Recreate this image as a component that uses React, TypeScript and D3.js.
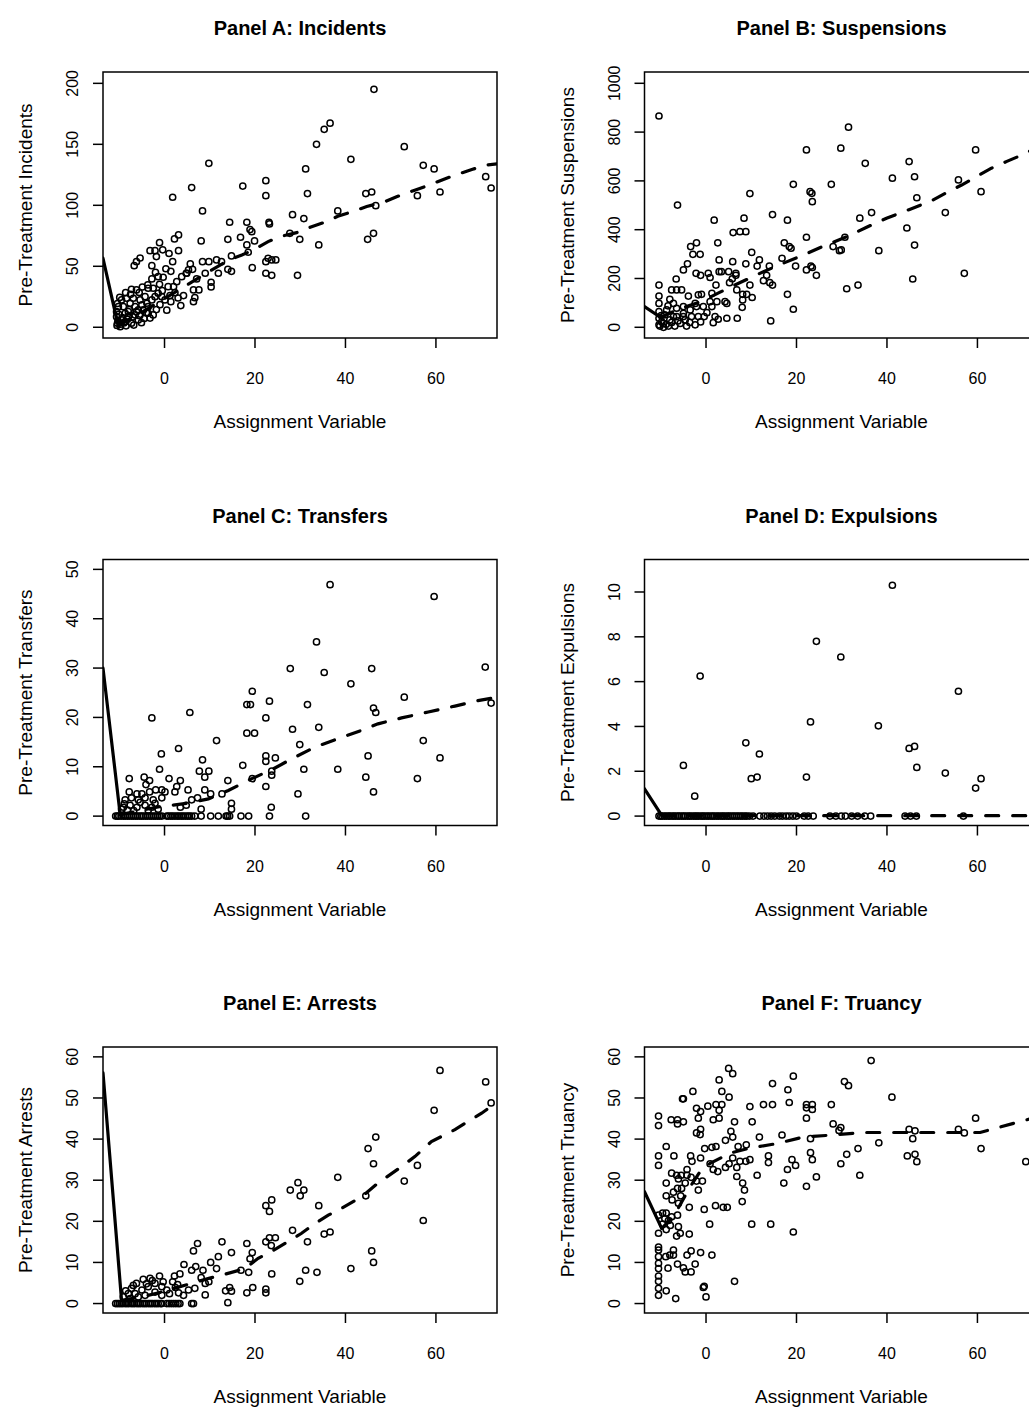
import React, { useEffect, useRef } from "react";
import * as d3 from "d3";

// shared x axis: assignment variable
const xDomain = [-13.6, 73.5];
const xTicks = [0, 20, 40, 60];

// ---- Panel A: incidents ----
const incidentsPts = [
  [46.3,195.1],[36.6,167.3],[35.3,162.3],[33.6,150],[53.0,148.1],[41.2,137.7],[9.8,134.4],[57.2,132.8],[59.6,129.8],[31.2,129.8],
  [6.0,114.5],[17.3,115.8],[22.4,120.2],[22.4,107.9],[1.8,106.6],[31.6,109.6],[44.5,109.6],[45.8,110.9],[55.9,107.9],[60.9,110.9],
  [71.0,123.5],[72.2,114.2],[8.4,95.4],[38.3,95.4],[28.3,92.3],[30.8,89.1],[46.7,99.7],[14.4,86.1],[18.2,86.1],[23.1,86.1],
  [23.2,84.7],[18.9,80.1],[19.3,78.4],[3.1,75.7],[2.2,72.4],[16.8,73.8],[19.9,70.8],[14.0,72.1],[8.1,70.8],[29.9,72.1],
  [27.7,77.0],[34.1,67.5],[44.9,72.1],[46.2,77.0],[-1.1,69.4],[-3.2,62.8],[-2.1,62.8],[3.1,62.8],[18.2,67.5],[18.5,61.5],
  [-5.4,56.8],[-6.2,53.8],[-6.7,50.5],[-2.8,50.5],[1.8,53.8],[5.7,51.9],[8.4,53.8],[9.8,53.8],[11.5,55.2],[12.6,53.8],
  [14.8,58.5],[22.9,56.6],[23.7,55.2],[24.6,55.2],[22.4,53.8],[19.4,48.9],[14.0,47.5],[14.8,45.9],[11.9,44.3],[22.4,44.3],
  [23.7,42.6],[29.4,42.6],[1.4,45.9],[6.2,47.5],[4.8,44.3],[9.0,44.3],[7.1,39.6],[10.3,36.9],[10.3,33.1],[6.4,30.6],
  [7.6,30.6],[6.7,24.3],[6.4,21.0],[3.6,17.8],[4.2,26.0],[2.3,28.4],[0.1,22.4],[1.4,21.0],[-1.4,41.5],[-2.8,39.6],
  [-3.7,34.7],[-3.6,32.0],[-2.5,32.0],[-1.1,35.2],[-0.3,41.0],[0.8,33.3],[2.0,33.3],[2.7,37.4],[3.8,41.5],[4.9,44.3],
  [5.3,47.0],[-1.4,27.9],[-0.6,25.1],[-2.1,25.1],[-2.8,22.4],[-3.9,19.7],[-5.0,18.3],[-5.8,14.2],[-6.5,10.1],[-8.0,8.7],
  [-8.7,11.5],[-9.1,16.9],[-9.5,22.4],[-8.6,28.4],[-7.3,31.1],[-6.2,30.6],[-4.3,25.1],[-3.6,16.9],[-2.5,10.1],[-4.7,14.2],
  [-7.6,19.7],[-10.2,16.9],[-10.6,8.7],[-10.4,3.3],[-9.8,0.5],[-8.7,4.6],[-7.3,3.3],[-5.8,6.0],[-8.4,23.8],[-6.9,23.8],
  [-5.4,22.4],[-3.6,11.5],[-6.5,16.9],[-8.0,12.8],[-9.5,6.0],[-10.6,12.8],[-10.5,1.5],[-10.3,5.5],[-10.1,10.5],[-9.7,2.5],
  [-9.3,8],[-9,3.5],[-8.5,1.2],[-8.2,6.5],[-7.8,14.5],[-7,8.5],[-6.8,1.8],[-6.2,12.8],[-5.5,9.5],[-5.1,3.8],
  [-4.5,7.2],[-4,12],[-3.2,7.5],[-1.8,14.5],[-1,18.5],[0.5,14],[1.2,26],[-0.5,30],[3,24],[-10.4,19.5],
  [-9.9,24.5],[-7.5,27],[-5.6,28.5],[-4.9,33],[-2,45],[0.3,48],[-1.8,58],[1,60.5],[-0.4,63.5],
];
const incidentsLeft = [[-13.6,56.6],[-10.2,0.5]];
const incidentsFit = [
  [-10.2,2],[-6,10],[-2,19],[2,28],[6,37],[10,46],[14.1,55],[17.1,59.3],[19.3,62.8],[22.9,70.2],[25.5,74.3],[29.2,77.6],
  [32.2,82],[35.8,86.6],[38.3,91],[41.7,95],[44.7,99],[48.4,102.5],[51.3,107],[55,112],[58.1,116],[61.5,121],[64.4,125],
  [68.1,129.5],[71,133],[73.5,134],
];
const incidentsTicks = [0, 50, 100, 150, 200];

// ---- Panel B: suspensions ----
const suspensionsPts = [
  [-10.4,866],[-6.3,501],[31.5,820],[22.2,727],[29.8,734],[59.6,727],[35.2,672],[44.9,679],[41.2,611],[46.1,617],
  [19.3,586],[27.7,586],[55.8,604],[60.8,556],[9.7,548],[23.0,556],[23.4,549],[23.5,515],[46.6,531],[1.8,439],
  [8.4,447],[14.7,462],[18.0,439],[36.6,470],[52.9,470],[34.0,447],[6.0,388],[7.5,392],[8.8,392],[44.4,407],
  [-3.4,331],[-2.1,346],[-2.9,299],[-1.3,299],[2.6,346],[22.2,369],[17.3,346],[18.8,324],[18.4,331],[28.1,331],
  [29.5,314],[29.9,317],[30.7,369],[38.2,314],[46.1,337],[10.1,307],[-4.1,260],[-5.0,235],[2.9,276],[5.9,269],
  [8.8,260],[11.8,276],[11.3,251],[14.0,251],[16.8,283],[19.8,251],[22.2,235],[23.2,251],[23.5,245],[24.4,213],
  [-2.2,221],[-1.2,213],[0.5,221],[0.9,204],[2.9,228],[3.4,228],[5.0,228],[6.6,221],[6.6,213],[5.2,183],
  [5.8,199],[2.2,173],[9.7,173],[12.7,191],[13.4,213],[14.1,183],[14.7,173],[6.8,153],[8.1,135],[9.0,135],
  [8.1,112],[8.0,82],[10.2,122],[18.0,135],[19.3,74],[14.3,26],[31.1,158],[33.6,173],[45.7,198],[57.1,221],
  [-6.6,198],[-10.4,173],[-10.4,128],[-10.4,98],[-10.4,64],[-10.4,37],[-10.4,10],[-7.6,153],[-6.5,153],[-5.4,153],
  [-8.0,115],[-7.2,98],[-3.9,128],[-1.7,133],[-1.0,135],[1.3,139],[0.9,105],[2.4,105],[4.2,105],[4.6,98],
  [-2.4,98],[-2.1,85],[-0.6,85],[1.3,85],[-3.5,71],[-5.0,85],[-6.5,78],[-8.7,71],[-9.1,51],[-7.2,44],
  [-5.0,44],[-3.2,44],[-1.7,44],[-0.4,44],[2.0,44],[2.7,33],[4.6,37],[6.9,37],[1.6,19],[-2.4,10],
  [-4.3,5],[-5.7,16],[-6.9,5],[-8.3,5],[-9.4,16],[-8.0,30],[-6.5,44],[-5.0,57],[-9.4,0],[-10.2,5],
  [-9.8,22],[-8.8,12],[-7.6,20],[-6.2,26],[-4.6,30],[-3.6,20],[-1.2,22],[0.2,60],[-9.9,48],[-8.4,88],
];
const suspensionsLeft = [[-13.6,85],[-10,40]];
const suspensionsFit = [
  [-10,40],[-6.5,71],[-2,100],[0,115],[3,143],[6,170],[9.5,200],[12.7,228],[17,262],[21.5,296],[26,333],[31.1,371],
  [35.5,410],[39.9,447],[45,483],[49.9,519],[53,550],[56.5,583],[60,620],[63.1,652],[66.5,680],[69.8,706],[73.5,740],
];
const suspensionsTicks = [0, 200, 400, 600, 800, 1000];

// ---- Panel C: transfers ----
const transfersPts = [
  [36.6,46.9],[59.6,44.5],[33.6,35.3],[27.8,29.9],[45.8,29.9],[70.9,30.2],[35.3,29.1],[41.2,26.8],[53.0,24.1],[19.4,25.3],
  [18.2,22.6],[19.0,22.6],[23.2,23.3],[31.6,22.6],[72.2,22.9],[46.2,21.9],[46.7,21.0],[-2.8,19.9],[5.6,21.0],[22.4,19.9],
  [28.3,17.6],[34.1,18.0],[18.2,16.8],[19.9,16.8],[11.5,15.3],[57.2,15.3],[29.9,14.5],[3.1,13.7],[-0.7,12.6],[8.4,11.4],
  [22.4,12.2],[22.4,11.1],[24.5,11.8],[45.0,12.2],[60.9,11.8],[17.3,10.3],[-1.1,9.5],[7.7,9.1],[8.9,7.9],[9.8,9.1],
  [23.7,9.1],[23.7,8.3],[30.8,9.5],[38.3,9.5],[19.4,7.6],[14.0,7.2],[44.5,7.9],[55.9,7.6],[22.4,6.0],[29.5,4.5],
  [46.2,4.9],[-7.8,7.6],[-4.5,7.9],[-3.3,7.2],[1.0,7.6],[3.5,7.2],[2.7,6.0],[5.2,5.3],[8.9,5.3],[10.2,4.5],
  [12.7,4.5],[14.8,2.6],[14.8,1.4],[23.6,1.8],[7.3,3.7],[6.0,3.3],[4.8,2.2],[3.5,1.8],[8.1,1.4],[-7.8,4.9],
  [-6.1,4.5],[-5.0,4.5],[-4.1,6.4],[-3.3,4.9],[-1.95,5.3],[-0.6,5.3],[0.1,4.9],[2.3,4.9],[-8.7,3.3],[-7.3,3.7],
  [-5.8,3.3],[-4.3,3.7],[-2.5,3.3],[-0.6,3.7],[-9.1,1.8],[-7.6,2.2],[-6.1,1.8],[-4.3,2.2],[-2.8,1.8],[-1.4,1.4],
  [-9.5,1.4],[-8.2,1.2],[-6.8,1.1],[-3.6,1.2],[-2.1,2.6],[-5.4,2.8],[-8.9,2.5],
];
const transfersZeroX = [
  -10.8,-10.4,-10.1,-9.6,-9.1,-8.7,-8.2,-7.8,-7.3,-6.9,-6.4,-6.0,-5.5,-5.1,-4.7,-4.2,-3.8,-3.3,-2.9,-2.4,-2.0,-1.5,-1.1,-0.6,
  0.5,0.9,1.4,1.8,2.3,2.8,3.2,3.7,4.1,4.6,5.1,5.5,6.0,6.7,8.1,10.2,11.9,13.6,13.95,14.4,16.9,18.6,23.2,31.2,
];
const transfersLeft = [[-13.6,30],[-9.8,0.3]];
const transfersFit = [
  [-9.8,0.3],[-5,1.2],[0,2.1],[1.6,2.2],[5,2.6],[9.7,3.5],[14.1,5.2],[19.3,7.6],[23.7,9.4],[28.1,11.6],[33.3,14],
  [38.4,15.7],[43.6,17.4],[47.2,18.7],[52.4,19.9],[58.3,21.1],[64.2,22.3],[69.3,23.4],[73.5,24.1],
];
const transfersTicks = [0, 10, 20, 30, 40, 50];

// ---- Panel D: expulsions ----
const expulsionsPts = [
  [41.2,10.3],[24.4,7.8],[29.8,7.1],[-1.3,6.25],[55.8,5.57],[23.1,4.2],[38.1,4.03],[8.8,3.27],[11.8,2.77],[44.9,3.02],
  [46.1,3.11],[-5.0,2.26],[46.6,2.17],[52.9,1.92],[10.0,1.67],[11.3,1.74],[22.2,1.74],[60.8,1.67],[59.6,1.25],[-2.5,0.89],
];
const expulsionsZeroX = [
  -10.4,-10.0,-9.7,-9.2,-8.8,-8.3,-8.0,-7.5,-7.1,-6.7,-6.2,-5.9,-5.4,-5.0,-4.6,-4.1,-3.7,-3.3,-2.8,-2.4,-2.0,-1.6,-1.1,-0.7,
  -0.3,0.2,0.6,1.1,1.5,1.9,2.4,2.8,3.3,3.7,4.1,4.6,5.0,5.4,5.9,6.3,6.8,7.2,7.7,8.1,8.6,9.0,9.6,10.4,
  11.9,12.8,13.6,14.4,15.2,16.2,16.9,17.7,18.4,19.2,20.0,21.7,22.6,23.7,27.4,28.7,29.9,30.8,32.2,33.5,35.1,36.4,
  44.0,45.2,46.5,56.9,
];
const expulsionsLeft = [[-13.6,1.22],[-9.8,0.03]];
const expulsionsFit = [[-9.8,0.03],[20,0.02],[73.5,0.02]];
const expulsionsTicks = [0, 2, 4, 6, 8, 10];

// ---- Panel E: arrests ----
const arrestsPts = [
  [60.9,56.7],[71.0,53.9],[72.2,48.8],[59.6,47.0],[46.7,40.5],[45.0,37.7],[46.2,34.0],[55.9,33.6],[38.3,30.7],[53.0,29.8],
  [29.5,29.4],[27.8,27.6],[30.8,27.6],[30.0,26.2],[44.5,26.2],[23.7,25.2],[22.4,23.8],[23.2,22.4],[34.1,23.8],[57.2,20.2],
  [28.3,17.8],[35.3,16.9],[36.6,17.4],[31.6,15.0],[22.4,15.0],[23.2,16.0],[24.5,16.0],[23.6,14.1],[12.7,15.0],[18.2,14.6],
  [19.4,12.4],[7.3,14.6],[6.4,12.8],[14.8,12.4],[11.9,11.4],[18.9,10.9],[45.8,12.8],[46.2,10.0],[41.2,8.5],[10.2,10.0],
  [11.5,8.5],[4.3,9.5],[6.0,8.1],[6.9,9.0],[8.5,8.1],[8.1,6.3],[9.0,4.9],[9.0,2.1],[9.8,5.3],[16.9,8.1],
  [18.6,7.6],[31.2,8.1],[33.7,7.6],[23.7,7.2],[29.9,5.4],[13.5,3.1],[14.4,3.9],[14.8,3.0],[19.5,3.9],[18.2,2.6],
  [22.4,3.5],[22.4,2.6],[14.0,0.2],[-1.1,6.7],[2.2,6.7],[3.4,7.2],[1.8,5.3],[2.4,3.9],[3.1,2.6],[4.2,2.0],
  [5.3,3.3],[6.7,3.7],[-0.3,5.3],[-0.6,4.1],[0.5,3.3],[-2.1,4.9],[-3.2,6.1],[-4.7,5.9],[-6.2,4.9],[-7.3,3.7],
  [-8.0,2.4],[-9.1,1.6],[-6.5,2.4],[-5.0,3.3],[-3.6,4.1],[-2.1,2.8],[-0.6,2.0],[-4.3,2.0],[-5.8,1.6],[-7.6,1.2],
  [-8.6,3.1],[-6.9,4.4],[-4.0,4.8],[-2.7,5.6],[1.1,2.4],[2.9,4.6],
];
const arrestsZeroX = [
  -10.8,-10.4,-10.0,-9.6,-9.2,-8.7,-8.3,-7.9,-7.4,-7.0,-6.6,-6.1,-5.7,-5.3,-4.8,-4.4,-4.0,-3.5,-3.1,-2.7,-2.2,-1.8,-1.4,-0.9,-0.6,
  0.5,1.0,1.5,2.0,2.5,3.0,3.4,6.0,6.4,
];
const arrestsLeft = [[-13.6,56.1],[-9.5,0.8]];
const arrestsFit = [
  [-9.5,0.8],[-5,1.6],[0,3],[5,4.6],[10,6.2],[12.6,6.9],[17.8,8.5],[20.7,11],[24.8,13.4],[30.3,17.1],[33.3,19.5],
  [36.2,21.5],[39.2,23.2],[43.6,26],[47.2,29.3],[52.4,33.3],[55.4,35.8],[59,39.4],[64.2,42.3],[67.1,44.3],[70.1,46.3],[73.5,49],
];
const arrestsTicks = [0, 10, 20, 30, 40, 50, 60];

// ---- Panel F: truancy ----
const truancyPts = [
  [36.5,59.1],[5.0,57.2],[5.9,55.9],[19.3,55.3],[2.9,54.4],[14.7,53.5],[30.6,54.0],[31.5,53.0],[18.1,52.0],[-2.9,51.6],
  [3.5,51.6],[41.1,50.2],[-5.2,49.8],[-5.0,49.8],[5.1,50.2],[18.4,48.9],[0.4,48.0],[2.2,48.4],[3.5,48.4],[12.7,48.4],
  [14.7,48.4],[22.2,48.4],[23.5,48.4],[22.2,47.6],[23.5,47.2],[27.7,48.4],[9.7,47.9],[-2.1,47.5],[-1.2,46.7],[2.9,47.0],
  [-10.5,45.6],[-10.5,43.3],[-7.7,44.7],[-6.3,44.7],[-6.3,43.7],[-5.0,44.2],[-1.7,45.1],[1.6,44.7],[2.9,45.1],[6.3,44.2],
  [10.2,44.2],[22.2,45.1],[59.6,45.1],[28.1,43.7],[29.8,42.8],[29.4,42.1],[-2.1,41.5],[-1.3,41.1],[-1.2,42.4],[5.5,41.9],
  [5.9,40.5],[4.3,39.7],[11.8,40.5],[16.8,41.0],[23.1,40.1],[44.9,42.4],[46.2,42.0],[45.7,40.1],[55.8,42.4],[57.1,41.5],
  [-8.8,38.2],[-0.3,37.7],[1.3,38.0],[2.2,38.2],[7.1,38.2],[8.9,38.6],[38.2,39.1],[33.6,37.7],[60.8,37.7],[-10.5,35.9],
  [-10.5,33.6],[-7.1,35.9],[-3.4,35.9],[-3.1,34.6],[-1.2,35.4],[0.9,34.0],[5.9,35.4],[7.5,34.6],[8.8,34.6],[9.7,35.0],
  [13.8,35.9],[13.8,34.3],[19.0,35.0],[19.8,33.6],[18.0,32.6],[23.1,36.7],[23.5,35.0],[31.1,36.3],[29.8,34.0],[44.5,35.9],
  [46.2,36.3],[46.6,34.5],[70.7,34.5],[4.3,33.1],[5.1,34.0],[1.6,32.6],[2.6,32.1],[6.8,33.1],[6.8,30.9],[11.3,31.2],
  [17.2,29.3],[22.2,28.5],[24.4,30.8],[34.0,31.2],[8.1,29.3],[8.5,27.6],[8.0,24.8],[-7.6,31.7],[-6.5,31.2],[-6.1,30.3],
  [-5.5,31.2],[-4.2,32.6],[-4.2,31.2],[-3.3,30.7],[-4.6,29.3],[-8.8,29.3],[-2.1,29.8],[-0.8,29.8],[-1.7,27.6],[-5.4,28.0],
  [-6.3,28.0],[-7.2,27.1],[-8.8,26.2],[-7.5,25.2],[-5.6,26.2],[-6.1,24.4],[-3.7,23.4],[-0.4,22.9],[2.1,23.8],[3.8,23.4],
  [4.7,23.4],[-10.5,21.5],[-9.6,22.0],[-8.8,22.0],[-7.6,21.1],[-6.3,21.5],[-9.6,19.3],[-8.8,18.0],[-10.5,17.1],[-6.1,18.7],
  [-5.7,17.1],[-6.5,16.4],[-3.7,16.9],[0.8,19.3],[10.1,19.3],[14.3,19.3],[19.3,17.4],[-10.5,13.7],[-10.5,13.0],[-10.5,11.4],
  [-10.5,9.8],[-10.5,8.5],[-10.5,6.7],[-10.5,5.4],[-10.5,3.7],[-10.5,2.0],[-8.8,3.1],[-6.7,1.2],[-8.4,8.6],[-8.9,11.4],
  [-8.0,11.8],[-7.2,11.8],[-7.2,13.0],[-6.3,9.6],[-5.0,8.7],[-4.6,7.7],[-3.3,7.7],[-4.2,11.8],[-3.3,12.8],[-2.4,9.6],
  [-1.2,12.4],[1.3,11.8],[-0.4,4.2],[-0.6,3.9],[0.0,1.6],[6.3,5.4],[-8.3,20.2],[-7.9,19.0],[-9.1,20.6],
];
const truancyLeft = [[-13.6,27.2],[-9.8,18.3]];
const truancyFit = [
  [-9.8,18.3],[-7.2,21.1],[-3.5,28.4],[-1.3,32.1],[0.9,34.1],[5.3,36.6],[9.7,37.8],[15.6,38.9],[21.5,40.5],[28.1,41],
  [34.8,41.6],[41.4,41.6],[49.5,41.6],[56.9,41.6],[60.6,41.6],[64.2,42.7],[70.9,44.7],[73.5,45.5],
];
const truancyTicks = [0, 10, 20, 30, 40, 50, 60];

const panels = [
  { title: "Panel A: Incidents", ylab: "Pre-Treatment Incidents", pts: incidentsPts, left: incidentsLeft, fit: incidentsFit, ticks: incidentsTicks, yDomain: [-8.8, 209.3] },
  { title: "Panel B: Suspensions", ylab: "Pre-Treatment Suspensions", pts: suspensionsPts, left: suspensionsLeft, fit: suspensionsFit, ticks: suspensionsTicks, yDomain: [-43.9, 1046.3] },
  { title: "Panel C: Transfers", ylab: "Pre-Treatment Transfers", pts: transfersPts.concat(transfersZeroX.map(x => [x, 0])), left: transfersLeft, fit: transfersFit, ticks: transfersTicks, yDomain: [-1.9, 52.0] },
  { title: "Panel D: Expulsions", ylab: "Pre-Treatment Expulsions", pts: expulsionsPts.concat(expulsionsZeroX.map(x => [x, 0])), left: expulsionsLeft, fit: expulsionsFit, ticks: expulsionsTicks, yDomain: [-0.42, 11.45] },
  { title: "Panel E: Arrests", ylab: "Pre-Treatment Arrests", pts: arrestsPts.concat(arrestsZeroX.map(x => [x, 0])), left: arrestsLeft, fit: arrestsFit, ticks: arrestsTicks, yDomain: [-2.3, 62.4] },
  { title: "Panel F: Truancy", ylab: "Pre-Treatment Truancy", pts: truancyPts, left: truancyLeft, fit: truancyFit, ticks: truancyTicks, yDomain: [-2.3, 62.4] },
];

const FONT = "'Liberation Sans', Arial, Helvetica, sans-serif";

export default function App() {
  const ref = useRef<SVGSVGElement>(null);

  useEffect(() => {
    const svg = d3.select(ref.current);
    svg.selectAll("*").remove();

    // plot box geometry (mfrow 3x2, right column runs off the page)
    const boxW = 394, boxH = 266;
    const lefts = [103, 644.5];
    const tops = [72, 559.5, 1047];

    panels.forEach((p, i) => {
      const x0 = lefts[i % 2];
      const y0 = tops[Math.floor(i / 2)];
      const x = d3.scaleLinear().domain(xDomain).range([x0, x0 + boxW]);
      const y = d3.scaleLinear().domain(p.yDomain).range([y0 + boxH, y0]);
      const g = svg.append("g");

      const clipId = "clip" + i;
      g.append("clipPath").attr("id", clipId)
        .append("rect").attr("x", x0).attr("y", y0).attr("width", boxW).attr("height", boxH);

      // points (open circles, pch = 1)
      g.append("g").attr("clip-path", `url(#${clipId})`)
        .selectAll("circle").data(p.pts).join("circle")
        .attr("cx", d => x(d[0])).attr("cy", d => y(d[1])).attr("r", 3.1)
        .attr("fill", "none").attr("stroke", "#000").attr("stroke-width", 1.5);

      const line = d3.line<number[]>().x(d => x(d[0])).y(d => y(d[1]));
      // fit left of the cutoff: solid
      g.append("path").attr("clip-path", `url(#${clipId})`)
        .attr("d", line(p.left)).attr("fill", "none").attr("stroke", "#000")
        .attr("stroke-width", 3.2).attr("stroke-linecap", "round");
      // fit right of the cutoff: dashed
      g.append("path").attr("clip-path", `url(#${clipId})`)
        .attr("d", line(p.fit)).attr("fill", "none").attr("stroke", "#000")
        .attr("stroke-width", 3.2).attr("stroke-linecap", "round")
        .attr("stroke-dasharray", "13,14");

      // box
      g.append("rect").attr("x", x0).attr("y", y0).attr("width", boxW).attr("height", boxH)
        .attr("fill", "none").attr("stroke", "#000").attr("stroke-width", 1.5);

      // x axis
      const xa = g.append("g");
      xa.selectAll("line.tick").data(xTicks).join("line").attr("class", "tick")
        .attr("x1", d => x(d)).attr("x2", d => x(d))
        .attr("y1", y0 + boxH).attr("y2", y0 + boxH + 10).attr("stroke", "#000").attr("stroke-width", 1.5);
      xa.selectAll("text").data(xTicks).join("text")
        .attr("x", d => x(d)).attr("y", y0 + boxH + 46)
        .attr("text-anchor", "middle").style("font-family", FONT).style("font-size", "16px")
        .text(d => String(d));

      // y axis
      const ya = g.append("g");
      ya.selectAll("line.tick").data(p.ticks).join("line").attr("class", "tick")
        .attr("x1", x0 - 10).attr("x2", x0)
        .attr("y1", d => y(d)).attr("y2", d => y(d)).attr("stroke", "#000").attr("stroke-width", 1.5);
      ya.selectAll("text").data(p.ticks).join("text")
        .attr("transform", d => `translate(${x0 - 25},${y(d)}) rotate(-90)`)
        .attr("text-anchor", "middle").style("font-family", FONT).style("font-size", "16px")
        .text(d => String(d));

      // titles and axis labels
      g.append("text").attr("x", x0 + boxW / 2).attr("y", y0 - 37)
        .attr("text-anchor", "middle").style("font-family", FONT).style("font-size", "20px")
        .style("font-weight", "bold").text(p.title);
      g.append("text").attr("x", x0 + boxW / 2).attr("y", y0 + boxH + 90)
        .attr("text-anchor", "middle").style("font-family", FONT).style("font-size", "19px")
        .text("Assignment Variable");
      g.append("text")
        .attr("transform", `translate(${x0 - 71},${y0 + boxH / 2}) rotate(-90)`)
        .attr("text-anchor", "middle").style("font-family", FONT).style("font-size", "19px")
        .text(p.ylab);
    });
  }, []);

  return (
    <div>
      <style>{"body{margin:0;}"}</style>
      <svg ref={ref} width={1029} height={1410} style={{ display: "block", background: "#fff" }} />
    </div>
  );
}
